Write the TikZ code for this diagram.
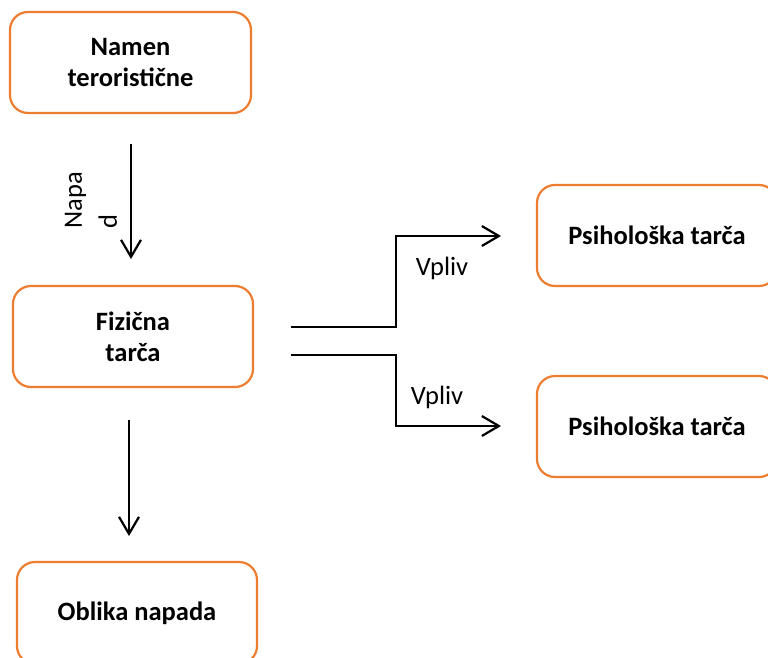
\documentclass[tikz,border=0pt]{standalone}
\usepackage{fontspec}
\setmainfont{Carlito}
\usetikzlibrary{arrows.meta}
\definecolor{boxorange}{HTML}{ED7D31}
\begin{document}
\begin{tikzpicture}[x=1pt,y=-1pt,
  box/.style={draw=boxorange, line width=2.2pt, rounded corners=18pt, minimum width=240pt, minimum height=101pt, align=center, inner sep=0pt, font=\fontsize{26.5}{31}\selectfont\bfseries},
  conn/.style={line width=2.2pt, -{Straight Barb[length=17pt,width=20pt,line width=2.2pt]}},
  lbl/.style={font=\fontsize{26.5}{35}\selectfont, inner sep=0pt}]
\clip (0,0) rectangle (768,658);
\fill[white] (0,0) rectangle (768,658);
\node[box, minimum width=241pt] (n1) at (130.5,62.5) {Namen\\teroristične};
\node[box] (n2) at (133,336.5) {Fizična\\tarča};
\node[box] (n3) at (657,235.5) {Psihološka tarča};
\node[box] (n4) at (657,426.5) {Psihološka tarča};
\node[box, minimum height=102pt] (n5) at (137,613) {Oblika napada};
% connector end points
\coordinate (a1s) at (131,144);
\coordinate (a1e) at (131,259);
\coordinate (a2s) at (129,420);
\coordinate (a2e) at (129,536);
\coordinate (u1) at (291,327);
\coordinate (u2) at (501,236);
\coordinate (l1) at (291,355);
\coordinate (l2) at (501,426);
\draw[conn] (a1s) -- (a1e);
\draw[conn] (a2s) -- (a2e);
\draw[conn] (u1) -- (396,327) -- (396,236) -- (u2);
\draw[conn] (l1) -- (396,355) -- (396,426) -- (l2);
\node[lbl, rotate=90, align=left] (napad) at (91,200) {Napa\\d};
\node[lbl] (v1) at (442,268) {Vpliv};
\node[lbl] (v2) at (437,397) {Vpliv};
\end{tikzpicture}
\end{document}
